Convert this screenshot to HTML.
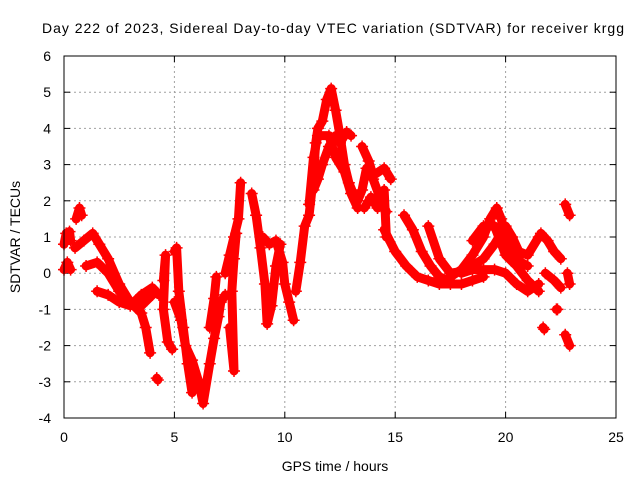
<!DOCTYPE html>
<html><head><meta charset="utf-8"><style>
body{margin:0;background:#fff}
svg{display:block;font-family:"Liberation Sans",sans-serif}
</style></head><body>
<svg id="chart" width="640" height="480" xmlns="http://www.w3.org/2000/svg">
<rect width="640" height="480" fill="#fff"/>
<text x="333" y="33" text-anchor="middle" font-size="14" textLength="582">Day 222 of 2023, Sidereal Day-to-day VTEC variation (SDTVAR) for receiver krgg</text>
<g id="grid"></g>
<g id="ticks" font-size="14"></g>
<g id="marks"></g>
<rect x="64" y="56" width="552" height="362" fill="none" stroke="#000"/>
<text x="335" y="471" text-anchor="middle" font-size="14">GPS time / hours</text>
<text transform="translate(20,237) rotate(-90)" text-anchor="middle" font-size="14">SDTVAR / TECUs</text>
</svg>
<script>
const xTicks=[0,5,10,15,20,25];
const yTicks=[-4,-3,-2,-1,0,1,2,3,4,5,6];
const tracks=[
[[0,0.8],[0.1,1.1],[0.25,1.15],[0.3,0.9]],
[[0,0.1],[0.15,0.3],[0.3,0.1]],
[[0.55,1.5],[0.7,1.8],[0.8,1.6]],
[[0.5,0.7],[0.9,0.9],[1.3,1.1],[1.6,0.8],[2,0.4],[2.5,-0.3],[3,-0.8],[3.5,-0.9],[4,-0.6]],
[[1,0.2],[1.5,0.3],[2,0],[2.5,-0.5],[3,-0.8],[3.5,-1.1],[3.7,-1.5],[3.9,-2.2]],
[[1.5,-0.5],[2,-0.6],[2.5,-0.8],[3,-0.9],[3.5,-0.6],[4,-0.4],[4.3,-0.6]],
[[4.2,-2.9],[4.25,-2.95]],
[[4.5,-0.2],[4.6,0.5],[4.5,-1],[4.7,-1.9],[4.9,-2.1]],
[[5,0.6],[5.1,0.7],[5.2,-0.5],[5.4,-1.5],[5.6,-2.5],[5.8,-3.3]],
[[5,-0.8],[5.3,-1.3],[5.5,-2],[5.8,-2.4],[6.1,-3],[6.3,-3.6],[6.6,-2.5],[6.8,-1.8],[7,-1.2],[7.1,-0.8],[7.3,-0.6]],
[[6.6,-1.5],[6.8,-0.7],[6.9,-0.1]],
[[7.3,0],[7.5,0.5],[7.7,1.0],[7.9,1.5],[8,2.5]],
[[7.5,-1.5],[7.7,-2.7],[7.6,-0.5],[7.7,0.4],[7.8,1.1]],
[[8.5,2.2],[8.7,1.6],[8.9,0.7],[9.1,-0.3],[9.2,-1.4],[9.4,-0.9],[9.6,0.2],[9.8,0.8]],
[[9,1],[9.3,0.8],[9.6,0.9],[9.9,0.3],[10,-0.3],[10.2,-0.8],[10.4,-1.3]],
[[10.5,-0.5],[10.7,0.3],[10.9,1.3],[11.1,1.6],[11.3,2.7],[11.4,3.6],[11.5,4],[11.7,4.2],[11.9,4.8],[12.1,5.1],[12.3,4.5],[12.5,3.8],[12.7,3],[12.9,2.5],[13.1,2.2],[13.3,2.0],[13.5,2.3],[13.7,2.9],[14,2.6],[14.3,2.1],[14.6,1.7]],
[[11.3,2.3],[11.5,2.6],[11.7,3],[12,3.5],[12.3,3.8],[12.5,3.6],[12.8,3.9],[13,3.8]],
[[11.1,1.9],[11.3,3.2],[11.5,3.8],[12,3.8],[12.3,3.2],[12.7,2.8],[13,2.2],[13.3,1.8]],
[[13.5,3.5],[13.8,3.1],[14,2.7],[14.5,2.9],[14.8,2.6]],
[[13.6,1.8],[13.9,2.1],[14.2,1.8],[14.5,2.3],[14.6,1.0]],
[[14.5,1.2],[15,0.6],[15.5,0.2],[16,-0.1],[16.5,-0.2],[17,-0.3],[17.5,-0.3],[18,-0.3],[18.5,-0.2],[19,-0.1]],
[[15.4,1.6],[15.8,1.2],[16.2,0.6],[16.6,0.2],[17,-0.1],[17.4,-0.2]],
[[16.5,1.3],[17,0.4],[17.5,0],[18,0.05],[18.5,0.2],[19,0.4],[19.5,0.8],[20,1.3],[20.3,1.0],[20.6,0.6],[21,0.5],[21.5,1.0]],
[[17.5,-0.1],[18,0.1],[18.5,0.5],[19,1.0],[19.3,1.5],[19.6,1.8],[19.8,1.5],[20,1.0],[20.3,0.6],[20.7,0.3],[21,0.2]],
[[18,0],[18.5,0.1],[19,0.1],[19.5,0.1],[20,0.0],[20.5,-0.3],[21,-0.5],[21.5,-0.3]],
[[18.5,0.9],[19,1.3],[19.5,1.3],[20,0.5],[20.5,0.2],[21,-0.2],[21.5,-0.5]],
[[21.6,1.1],[21.9,0.9],[22.2,0.6],[22.5,0.4]],
[[21.8,0],[22.2,-0.2],[22.5,-0.4]],
[[21.7,-1.5],[21.75,-1.55]],
[[22.3,-1.0],[22.35,-1.0]],
[[22.8,0],[22.9,-0.3]],
[[22.7,1.9],[22.9,1.6]],
[[22.7,-1.7],[22.9,-2.0]]
];
const NS="http://www.w3.org/2000/svg";
const X=t=>64+t*552/25, Y=v=>418-(v+4)*36.2;
const grid=document.getElementById('grid'),ticks=document.getElementById('ticks'),marks=document.getElementById('marks');
function mk(tag,at,parent){const e=document.createElementNS(NS,tag);for(const k in at)e.setAttribute(k,at[k]);parent.appendChild(e);return e;}
xTicks.forEach(t=>{
 if(t>0&&t<25){const g=mk('line',{x1:X(t),x2:X(t),y1:56,y2:418,stroke:'#a0a0a0','stroke-dasharray':'2,3'},grid);
 
 }
 mk('line',{x1:X(t),x2:X(t),y1:418,y2:412,stroke:'#000'},ticks);
 mk('line',{x1:X(t),x2:X(t),y1:56,y2:62,stroke:'#000'},ticks);
 const l=mk('text',{x:X(t),y:442,'text-anchor':'middle'},ticks);l.textContent=t;
 
 
});
yTicks.forEach(v=>{
 if(v>-4&&v<6){const g=mk('line',{x1:64,x2:616,y1:Y(v),y2:Y(v),stroke:'#a0a0a0','stroke-dasharray':'2,3'},grid);
 
 }
 mk('line',{x1:64,x2:70,y1:Y(v),y2:Y(v),stroke:'#000'},ticks);
 mk('line',{x1:616,x2:610,y1:Y(v),y2:Y(v),stroke:'#000'},ticks);
 const l=mk('text',{x:51,y:Y(v)+5,'text-anchor':'end'},ticks);l.textContent=v;
 
 
});
tracks.forEach(tr=>{
 const p=mk('polyline',{points:tr.map(d=>X(d[0])+','+Y(d[1])).join(' '),fill:'none',stroke:'#ff0000','stroke-width':9,'stroke-linejoin':'round','stroke-linecap':'round'},marks);
 
 
 tr.forEach(d=>{
  const x=X(d[0]),y=Y(d[1]);
  const m=mk('path',{d:`M${x-6},${y}H${x+6}M${x},${y-6}V${y+6}`,stroke:'#ff0000','stroke-width':1.5},marks);
  
  
 });
});
</script>
</body></html>
